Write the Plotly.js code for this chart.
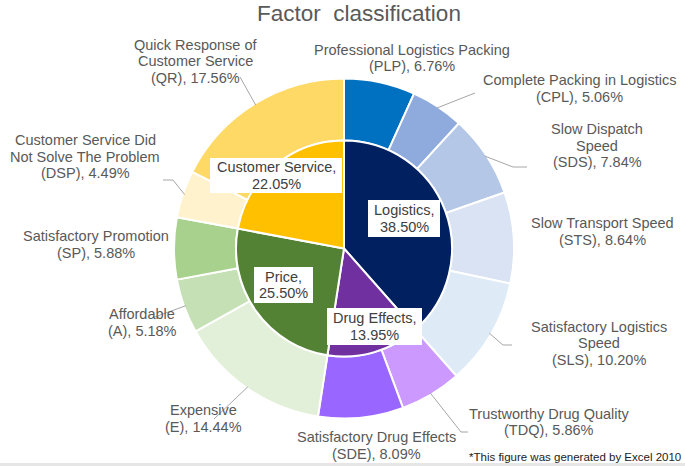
<!DOCTYPE html>
<html>
<head>
<meta charset="utf-8">
<script src="https://cdn.plot.ly/plotly-3.0.1.min.js"></script>
<style>html,body{margin:0;padding:0;background:#fff;}</style>
</head>
<body>
<div id="chart" style="width:685px;height:466px;"></div>
<script>
// ---- data ----
const innerLabels = ["Logistics", "Drug Effects", "Price", "Customer Service"];
const innerValues = [38.50, 13.95, 25.50, 22.05];
const innerColors = ["#002060", "#7030A0", "#548235", "#FFC000"];

const outerNames = [
  "Professional Logistics Packing", "Complete Packing in Logistics", "Slow Dispatch|Speed",
  "Slow Transport Speed", "Satisfactory Logistics|Speed", "Trustworthy Drug Quality",
  "Satisfactory Drug Effects", "Expensive", "Affordable",
  "Satisfactory Promotion", "Customer Service Did|Not Solve The Problem", "Quick Response of|Customer Service"
];
const outerCodes = ["PLP", "CPL", "SDS", "STS", "SLS", "TDQ", "SDE", "E", "A", "SP", "DSP", "QR"];
const outerValues = [6.76, 5.06, 7.84, 8.64, 10.20, 5.86, 8.09, 14.44, 5.18, 5.88, 4.49, 17.56];
const outerColors = ["#0070C0", "#8FAADC", "#B4C7E7", "#DAE3F3", "#DEEBF7",
                     "#CC99FF", "#9966FF",
                     "#E2F0D9", "#C5E0B4", "#A9D18E",
                     "#FFF2CC", "#FFD966"];

// ---- geometry / layout helpers ----
const W = 685, H = 466;
const cx = 344, cy = 248.5, R = 170, r = 108;
const px = x => x / W;
const py = y => 1 - y / H;
const FONT = "Liberation Sans, Arial, sans-serif";

// label placement (pixel centres) and leader elbows (layout only)
const outerLabelPos = [
  [412, 58], [579, 88.5], [597, 145.5], [602, 231.5], [599, 343], [549, 422],
  [376, 445.5], [203, 418.5], [142, 322.5], [96, 244.5], [85, 157], [195, 61.5]
];
const leaderPts = {
  1: [[475, 93]],
  2: [[513, 167], [527, 167]],
  4: [[503, 345], [512, 345]],
  5: [[461, 432], [468, 432]],
  7: [[214, 419]],
  8: [[152, 318]],
  10: [[173, 180], [163, 180]],
  11: [[240, 77]]
};
const innerLabelBox = [
  [404, 218.5, 72, 37], [374.5, 326.5, 95, 37], [283.5, 285, 59, 36], [276, 175.5, 132, 35]
];

const total = outerValues.reduce((a, b) => a + b, 0);
const annotations = [];
const shapes = [];

function addLines(lines, cxp, cyp, gap, font) {
  lines.forEach((t, j) => {
    annotations.push({
      xref: "paper", yref: "paper", x: px(cxp), y: py(cyp + (j - (lines.length - 1) / 2) * gap),
      xanchor: "center", yanchor: "middle", showarrow: false, text: t, font: font
    });
  });
}

let cum = 0;
outerValues.forEach((v, i) => {
  const mid = (cum + v / 2) / total * 2 * Math.PI;
  cum += v;
  const [lx, ly] = outerLabelPos[i];
  const lines = outerNames[i].split("|").concat(["(" + outerCodes[i] + "), " + v.toFixed(2) + "%"]);
  addLines(lines, lx, ly, 16.5, {family: FONT, size: 14.5, color: "#595959"});
  if (leaderPts[i]) {
    const sx = cx + R * 0.99 * Math.sin(mid);
    const sy = cy - R * 0.99 * Math.cos(mid);
    let d = "M" + px(sx) + "," + py(sy);
    leaderPts[i].forEach(p => { d += " L" + px(p[0]) + "," + py(p[1]); });
    shapes.push({type: "path", xref: "paper", yref: "paper", path: d,
                 line: {color: "#A6A6A6", width: 1}});
  }
});

innerValues.forEach((v, i) => {
  const b = innerLabelBox[i];
  shapes.push({type: "rect", xref: "paper", yref: "paper", layer: "above",
               x0: px(b[0] - b[2] / 2), x1: px(b[0] + b[2] / 2),
               y0: py(b[1] + b[3] / 2), y1: py(b[1] - b[3] / 2),
               fillcolor: "#FFFFFF", line: {width: 0}});
  addLines([innerLabels[i] + ",", v.toFixed(2) + "%"], b[0], b[1], 16.5,
           {family: FONT, size: 14.5, color: "#404040"});
});

annotations.push({
  xref: "paper", yref: "paper", x: px(683), y: py(457),
  xanchor: "right", yanchor: "middle", showarrow: false,
  text: "*This figure was generated by Excel 2010",
  font: {family: FONT, size: 11.5, color: "#222222"}
});

shapes.push({type: "rect", xref: "paper", yref: "paper",
             x0: 0, x1: 1, y0: 0, y1: py(463), fillcolor: "#E6E6E6", line: {width: 0}, layer: "below"});

const traces = [
  {
    type: "pie", values: outerValues, labels: outerCodes, sort: false, direction: "clockwise",
    rotation: 0, hole: r / R, textinfo: "none", hoverinfo: "label+percent",
    marker: {colors: outerColors, line: {color: "#FFFFFF", width: 2}},
    domain: {x: [px(cx - R), px(cx + R)], y: [py(cy + R), py(cy - R)]}
  },
  {
    type: "pie", values: innerValues, labels: innerLabels, sort: false, direction: "clockwise",
    rotation: 0, textinfo: "none", hoverinfo: "label+percent",
    marker: {colors: innerColors, line: {color: "#FFFFFF", width: 2}},
    domain: {x: [px(cx - r), px(cx + r)], y: [py(cy + r), py(cy - r)]}
  }
];

const layout = {
  width: W, height: H,
  margin: {l: 0, r: 0, t: 0, b: 0},
  paper_bgcolor: "#FFFFFF",
  showlegend: false,
  title: {
    text: "Factor\u00A0 classification",
    font: {family: FONT, size: 22.5, color: "#595959"},
    x: px(359), xanchor: "center", xref: "paper",
    y: py(13), yanchor: "middle", yref: "container"
  },
  annotations: annotations,
  shapes: shapes
};

Plotly.newPlot("chart", traces, layout, {displayModeBar: false, staticPlot: true});
</script>
</body>
</html>
